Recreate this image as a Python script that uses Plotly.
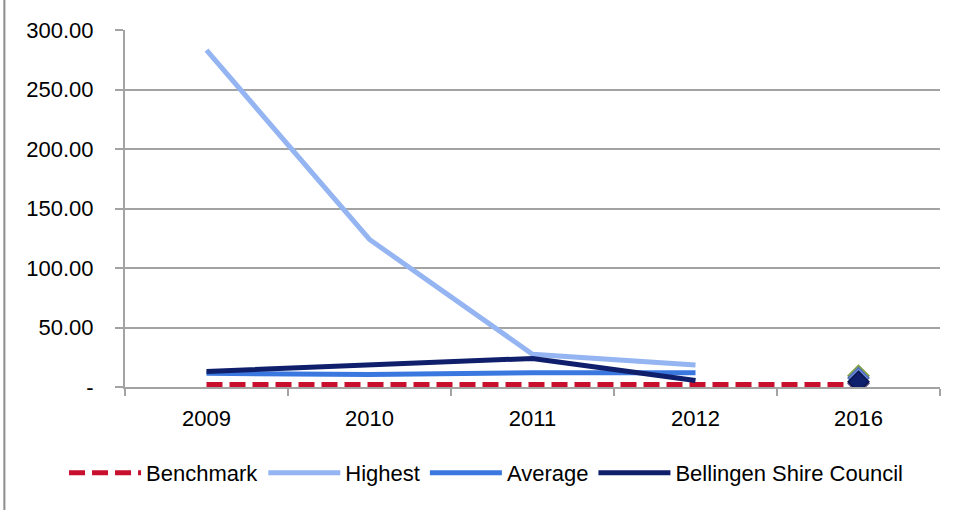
import plotly.graph_objects as go

years = ["2009", "2010", "2011", "2012", "2016"]
line_years = ["2009", "2010", "2011", "2012"]

benchmark = [2, 2, 2, 2, 2]
highest = [283, 124, 27.5, 18.5]
average = [11.5, 10.5, 12, 12]
bellingen = [13, 19, 24, 5.5]

# 2016 single-point values (drawn as diamonds)
marker_2016 = [
    ("#9BBB59", "#7f9c40", 9.5),
    ("#6f8fe0", "#4f6fc0", 7.5),
    ("#8064A2", "#664d88", 3.0),
    ("#0f1f6b", "#0a154d", 4.5),
]

y_ticks = [0, 50, 100, 150, 200, 250, 300]
y_tick_text = ["-", "50.00", "100.00", "150.00", "200.00", "250.00", "300.00"]

FONT = "Liberation Sans, Arial, sans-serif"
GRID = "#a3a3a3"
FS = 22

fig = go.Figure()

fig.add_trace(go.Scatter(
    x=years, y=benchmark, name="Benchmark", mode="lines",
    line=dict(color="#c8102e", width=5, dash="16px,7px"),
))
fig.add_trace(go.Scatter(
    x=line_years, y=highest, name="Highest", mode="lines",
    line=dict(color="#94b4f2", width=5),
))
fig.add_trace(go.Scatter(
    x=line_years, y=average, name="Average", mode="lines",
    line=dict(color="#3a78e0", width=5),
))
fig.add_trace(go.Scatter(
    x=line_years, y=bellingen, name="Bellingen Shire Council", mode="lines",
    line=dict(color="#0f1f6b", width=5),
))

for fill, edge, val in marker_2016:
    fig.add_trace(go.Scatter(
        x=["2016"], y=[val], mode="markers", showlegend=False,
        marker=dict(symbol="diamond", size=16, color=fill,
                    line=dict(color=edge, width=1.5)),
    ))

fig.update_layout(
    width=958, height=510,
    margin=dict(l=125, r=18, t=30, b=123, autoexpand=False),
    paper_bgcolor="white", plot_bgcolor="white",
    font=dict(family=FONT, size=FS, color="black"),
    showlegend=True,
    legend=dict(orientation="h", x=-0.0748, xanchor="left", y=-0.241,
                yanchor="middle", itemwidth=72, font=dict(size=FS),
                traceorder="normal"),
)

fig.update_xaxes(
    type="category", categoryorder="array", categoryarray=years,
    range=[-0.5, 4.5], showgrid=False, showline=True, linecolor=GRID,
    linewidth=2, ticks="outside", tickson="boundaries", ticklen=7,
    tickcolor=GRID, tickwidth=2, tickfont=dict(size=FS), zeroline=False,
    ticklabelstandoff=11,
)
fig.update_yaxes(
    range=[0, 300], tickvals=y_ticks, ticktext=y_tick_text,
    showgrid=True, gridcolor=GRID, gridwidth=2, showline=True,
    linecolor=GRID, linewidth=2, ticks="outside", ticklen=8,
    tickcolor=GRID, tickwidth=2, zeroline=False, tickfont=dict(size=FS),
    ticklabelstandoff=17,
)

# outer frame edge on the left
fig.add_shape(type="line", xref="paper", yref="paper",
              x0=-0.148, x1=-0.148, y0=-0.4, y1=1.1,
              line=dict(color="#8c8c8c", width=2))

fig.write_html("out.html")
